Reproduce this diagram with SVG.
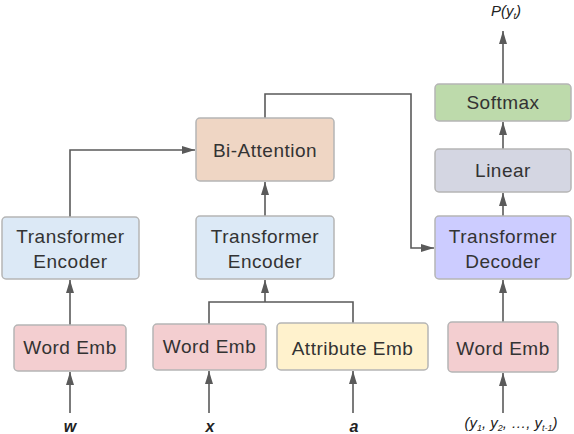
<svg xmlns="http://www.w3.org/2000/svg" width="574" height="434" viewBox="0 0 574 434">
<defs>
<style>
.box{stroke:#b5b5b5;stroke-width:1.5}
.lbl{font-family:"Liberation Sans",Arial,sans-serif;font-size:19px;letter-spacing:0.5px;fill:#333;text-anchor:middle}
.in{font-family:"Liberation Sans",Arial,sans-serif;font-style:italic;fill:#222;text-anchor:middle}
.conn path{fill:none;stroke:#5a5a5a;stroke-width:1.6}
.enc{fill:#dce9f6}
.emb{fill:#f3ced0}
.att{fill:#fff2cd}
.bi{fill:#efd6c4}
.sm{fill:#bddaab}
.lin{fill:#d4d6e2}
.dec{fill:#ccccff}
</style>
<marker id="ah" markerUnits="userSpaceOnUse" markerWidth="14" markerHeight="9" refX="13" refY="4" orient="auto">
<path d="M0,0 L13,4 L0,8 z" fill="#5a5a5a"/>
</marker>
</defs>
<rect width="574" height="434" fill="#fff"/>

<g class="conn">
<path d="M70,413 V372" marker-end="url(#ah)"/>
<path d="M70,325 V280" marker-end="url(#ah)"/>
<path d="M70,217 V150 H195" marker-end="url(#ah)"/>
<path d="M209,413 V371" marker-end="url(#ah)"/>
<path d="M353,413 V371" marker-end="url(#ah)"/>
<path d="M209,324 V302 H353 V323"/>
<path d="M265,302 V280" marker-end="url(#ah)"/>
<path d="M265,216 V182" marker-end="url(#ah)"/>
<path d="M265,118 V94 H411 V248 H434" marker-end="url(#ah)"/>
<path d="M503,413 V373" marker-end="url(#ah)"/>
<path d="M503,322 V280" marker-end="url(#ah)"/>
<path d="M503,216 V193" marker-end="url(#ah)"/>
<path d="M503,149 V122" marker-end="url(#ah)"/>
<path d="M503,84 V31" marker-end="url(#ah)"/>
</g>

<g id="enc-left">
<rect class="box enc" x="2" y="217" width="137" height="62" rx="4"/>
<text class="lbl" x="70.5" y="243">Transformer</text>
<text class="lbl" x="70.5" y="268">Encoder</text>
</g>
<g id="emb-w">
<rect class="box emb" x="14" y="325" width="112" height="46" rx="4"/>
<text class="lbl" x="70" y="354">Word Emb</text>
</g>
<g id="emb-x">
<rect class="box emb" x="153" y="324" width="113" height="46" rx="4"/>
<text class="lbl" x="209.5" y="353">Word Emb</text>
</g>
<g id="emb-a">
<rect class="box att" x="277" y="323" width="151" height="47" rx="4"/>
<text class="lbl" x="352.5" y="355">Attribute Emb</text>
</g>
<g id="enc-mid">
<rect class="box enc" x="196" y="216" width="138" height="63" rx="4"/>
<text class="lbl" x="265" y="243">Transformer</text>
<text class="lbl" x="265" y="268">Encoder</text>
</g>
<g id="biatt">
<rect class="box bi" x="196" y="118" width="138" height="63" rx="4"/>
<text class="lbl" x="265" y="157">Bi-Attention</text>
</g>
<g id="emb-y">
<rect class="box emb" x="448" y="322" width="110" height="50" rx="4"/>
<text class="lbl" x="503" y="355">Word Emb</text>
</g>
<g id="decoder">
<rect class="box dec" x="435" y="216" width="136" height="63" rx="4"/>
<text class="lbl" x="503" y="243">Transformer</text>
<text class="lbl" x="503" y="268">Decoder</text>
</g>
<g id="linear">
<rect class="box lin" x="435" y="149" width="136" height="43" rx="4"/>
<text class="lbl" x="503" y="177">Linear</text>
</g>
<g id="softmax">
<rect class="box sm" x="435" y="84" width="136" height="37" rx="4"/>
<text class="lbl" x="503" y="109">Softmax</text>
</g>

<g id="labels">
<text class="in" x="70" y="432" font-size="16" font-weight="bold">w</text>
<text class="in" x="210" y="432" font-size="16" font-weight="bold">x</text>
<text class="in" x="354" y="432" font-size="16" font-weight="bold">a</text>
<text class="in" x="506" y="16" font-size="15">P(y<tspan font-size="9" dy="3">t</tspan><tspan dy="-3">)</tspan></text>
<text class="in" x="511" y="428" font-size="15">(y<tspan font-size="9" dy="3">1</tspan><tspan dy="-3">, y</tspan><tspan font-size="9" dy="3">2</tspan><tspan dy="-3">, …, y</tspan><tspan font-size="9" dy="3">t-1</tspan><tspan dy="-3">)</tspan></text>
</g>
</svg>
